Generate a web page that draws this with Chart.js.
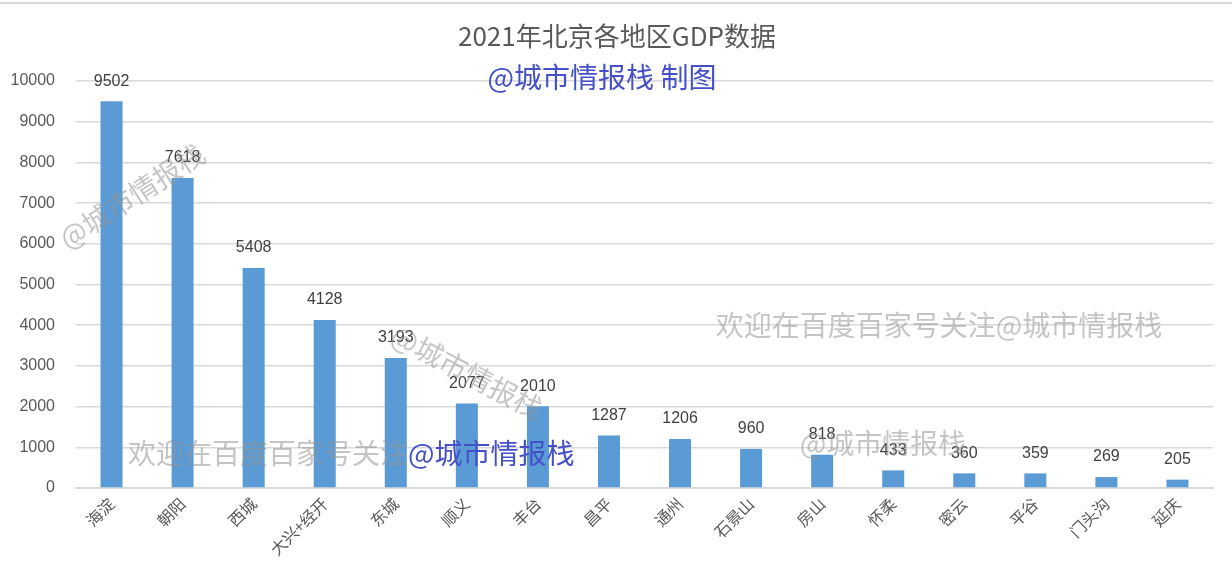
<!DOCTYPE html>
<html lang="zh">
<head>
    <meta charset="UTF-8">
    <title>2021年北京各地区GDP数据</title>
    <script src="https://cdn.jsdelivr.net/npm/chart.js"></script>
    <style>
        body { margin: 0; padding: 0; background: #ffffff; }
        #wrap { width: 1232px; height: 572px; }
    </style>
</head>
<body>
<div id="wrap"><canvas id="gdpChart" width="1232" height="572"></canvas></div>
<script>
    const districts = ['海淀', '朝阳', '西城', '大兴+经开', '东城', '顺义', '丰台', '昌平', '通州', '石景山', '房山', '怀柔', '密云', '平谷', '门头沟', '延庆'];
    const gdp = [9502, 7618, 5408, 4128, 3193, 2077, 2010, 1287, 1206, 960, 818, 433, 360, 359, 269, 205];
    const titleText = '2021年北京各地区GDP数据';
    const subTitleText = '@城市情报栈 制图';

    const cjk = "'Noto Sans CJK SC', 'Liberation Sans', sans-serif";
    const num = "'Liberation Sans', 'Noto Sans CJK SC', sans-serif";
    const grey = '#595959';
    const blue = '#4450c8';
    const wmColor = 'rgba(150, 150, 150, 0.55)';

    // 数值标签
    const valueLabels = {
        id: 'valueLabels',
        afterDatasetsDraw(chart) {
            const ctx = chart.ctx;
            ctx.save();
            ctx.font = '16px ' + num;
            ctx.fillStyle = '#404040';
            ctx.textAlign = 'center';
            ctx.textBaseline = 'middle';
            chart.getDatasetMeta(0).data.forEach((bar, i) => {
                ctx.fillText(gdp[i], bar.x, bar.y - 20);
            });
            ctx.restore();
        }
    };

    // 标题和水印
    const decorations = {
        id: 'decorations',
        afterDraw(chart) {
            const ctx = chart.ctx;
            ctx.save();
            // 顶部细线
            ctx.fillStyle = '#d9d9d9';
            ctx.fillRect(0, 2, 1232, 2);

            ctx.textAlign = 'center';
            ctx.textBaseline = 'middle';
            ctx.font = '26px ' + cjk;
            ctx.fillStyle = grey;
            ctx.fillText(titleText, 617, 36);
            ctx.font = '28px ' + cjk;
            ctx.fillStyle = blue;
            ctx.fillText(subTitleText, 602, 77);

            ctx.font = '28px ' + cjk;
            ctx.fillStyle = wmColor;
            // 斜向水印
            ctx.save();
            ctx.translate(132, 196);
            ctx.rotate(-33 * Math.PI / 180);
            ctx.fillText('@城市情报栈', 0, 0);
            ctx.restore();

            ctx.save();
            ctx.translate(467, 372);
            ctx.rotate(28 * Math.PI / 180);
            ctx.fillText('@城市情报栈', 0, 0);
            ctx.restore();

            ctx.fillText('@城市情报栈', 883, 443);
            ctx.fillText('欢迎在百度百家号关注@城市情报栈', 939, 325);

            ctx.textAlign = 'left';
            ctx.fillText('欢迎在百度百家号关注', 128, 453);
            const w = ctx.measureText('欢迎在百度百家号关注').width;
            ctx.fillStyle = blue;
            ctx.fillText('@城市情报栈', 128 + w, 453);
            ctx.restore();
        }
    };

    new Chart(document.getElementById('gdpChart').getContext('2d'), {
        type: 'bar',
        data: {
            labels: districts,
            datasets: [{
                data: gdp,
                backgroundColor: '#5b9bd5',
                barPercentage: 0.31,
                categoryPercentage: 1
            }]
        },
        options: {
            responsive: false,
            animation: false,
            devicePixelRatio: 1,
            layout: { padding: { top: 81, right: 19, left: 0, bottom: 0 } },
            plugins: {
                legend: { display: false },
                tooltip: { enabled: false }
            },
            scales: {
                x: {
                    grid: { display: false, drawTicks: false },
                    border: { color: '#d9d9d9', width: 2 },
                    ticks: {
                        color: grey,
                        font: { size: 16, family: cjk },
                        minRotation: 45,
                        maxRotation: 45,
                        padding: 6,
                        autoSkip: false
                    },
                    afterFit(s) { s.height = 84; }
                },
                y: {
                    min: 0,
                    max: 10000,
                    grid: { color: '#d9d9d9', lineWidth: 1.5, drawTicks: false },
                    border: { display: false },
                    ticks: {
                        stepSize: 1000,
                        color: grey,
                        padding: 21,
                        font: { size: 16, family: num },
                        callback: v => String(v)
                    },
                    afterFit(s) { s.width = 76; }
                }
            }
        },
        plugins: [valueLabels, decorations]
    });
</script>
</body>
</html>
